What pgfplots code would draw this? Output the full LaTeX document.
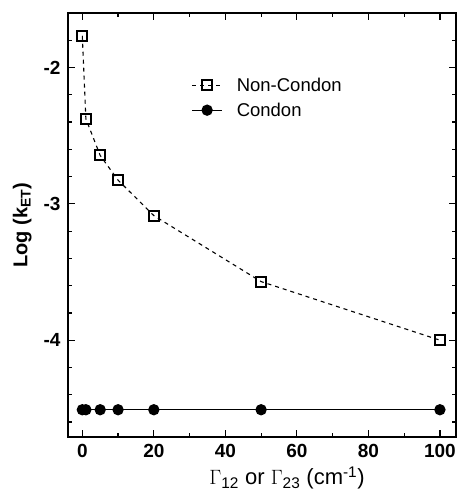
\documentclass[border=0pt]{standalone}
\usepackage{fontspec}
\setmainfont{Liberation Sans}
\usepackage{pgfplots}
\pgfplotsset{compat=1.18}
\begin{document}
\begin{tikzpicture}
\begin{axis}[
  scale only axis,
  width=388pt, height=424pt,
  xmin=-4, xmax=104.5,
  ymin=-4.71, ymax=-1.6,
  xtick={0,20,40,60,80,100},
  ytick={-4,-3,-2},
  minor xtick={10,30,50,70,90},
  minor ytick={-4.6,-4.4,-4.2,-3.8,-3.6,-3.4,-3.2,-2.8,-2.6,-2.4,-2.2,-1.8},
  tickwidth=7pt,
  subtickwidth=4pt,
  every tick/.style={line width=1.2pt},
  axis line style={line width=1.6pt},
  /pgf/number format/assume math mode=true,
  ticklabel style={font=\fontsize{19}{22}\selectfont\bfseries},
  xticklabel style={yshift=-4pt},
  yticklabel style={xshift=-4pt},
  xlabel={$\Gamma$\textsubscript{12} or $\Gamma$\textsubscript{23} (cm\textsuperscript{-1})},
  ylabel={\bfseries Log (k\textsubscript{ET})},
  label style={font=\fontsize{20}{24}\selectfont},
  xlabel style={yshift=-2pt, xshift=25pt, font=\fontsize{22}{26}\selectfont},
  ylabel style={yshift=5pt},
  legend style={draw=none, fill=none, at={(0.31,0.857)}, anchor=north west,
    font=\fontsize{18.5}{22}\selectfont, row sep=6pt, column sep=12pt},
  legend cell align=left,
  legend image code/.code={
    \draw[#1] (0pt,0pt) -- (30pt,0pt);
    \draw[#1, mark repeat=2, mark phase=2] plot coordinates {(0pt,0pt) (15pt,0pt) (30pt,0pt)};
  },
]
\addplot[black, line width=1.1pt, dash pattern=on 4pt off 4pt,
  mark=square, mark size=5pt, mark options={solid, line width=2pt, fill=white}]
  coordinates {(0,-1.767) (1,-2.376) (5,-2.645) (10,-2.826) (20,-3.086) (50,-3.57) (100,-4.0)};
\addlegendentry{Non-Condon}
\addplot[black, line width=1.3pt, mark=*, mark size=5pt, mark options={solid}]
  coordinates {(0,-4.51) (1,-4.51) (5,-4.51) (10,-4.51) (20,-4.51) (50,-4.51) (100,-4.51)};
\addlegendentry{Condon}
\coordinate (bl) at (rel axis cs:0,0);
\coordinate (tr) at (rel axis cs:1,1);
\end{axis}
\path (bl) ++(-68pt,-58pt) coordinate (A);
\path (tr) ++(4pt,13pt) coordinate (B);
\pgfresetboundingbox
\path (A) rectangle (B);
\end{tikzpicture}
\end{document}
